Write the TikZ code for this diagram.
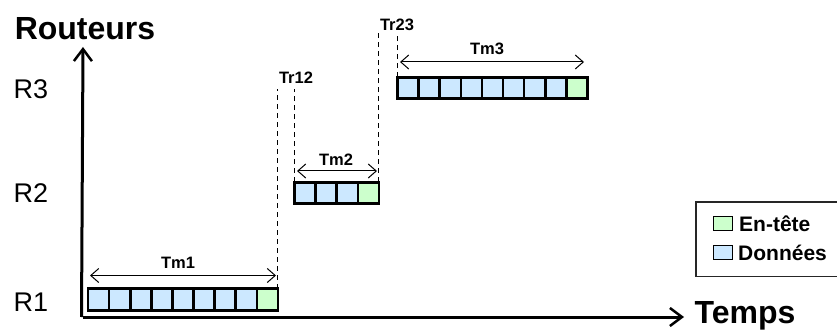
\documentclass[tikz,border=0pt]{standalone}
\usepackage{fontspec}
\setmainfont{Liberation Sans}
\usetikzlibrary{arrows.meta}
\definecolor{cellblue}{HTML}{CCE8FF}
\definecolor{cellgreen}{HTML}{CCFFCC}
\begin{document}
\begin{tikzpicture}[x=1pt,y=-1pt,
 cell/.style={draw=black, line width=2.6pt, fill=cellblue, minimum width=21.1pt, minimum height=21.5pt, inner sep=0pt, outer sep=0pt},
 hdr/.style={cell, fill=cellgreen},
 axis/.style={line width=3pt, -{Straight Barb[length=12pt,width=18pt,line width=2.5pt]}},
 meas/.style={line width=1pt, {Straight Barb[length=8pt,width=14pt]}-{Straight Barb[length=8pt,width=14pt]}},
 guide/.style={line width=1.1pt, dash pattern=on 5pt off 4pt},
 biglab/.style={font=\bfseries\fontsize{32}{36}\selectfont, inner sep=0pt, anchor=base},
 rlab/.style={font=\fontsize{27}{30}\selectfont, inner sep=0pt, anchor=base},
 smlab/.style={font=\bfseries\fontsize{16.5}{19}\selectfont, inner sep=0pt},
 legsq/.style={draw=black, line width=1.2pt, minimum width=19pt, minimum height=14pt, inner sep=0pt},
 legtxt/.style={font=\bfseries\fontsize{21}{24}\selectfont, inner sep=0pt, anchor=base west},
]
\useasboundingbox (0,0) rectangle (837,331);

% axes
\coordinate (origin) at (83,317);
\coordinate (ytop) at (83,47);
\coordinate (xend) at (684,317);
\draw[axis] ([xshift=-1.5pt]origin) -- (ytop);
\draw[axis] (origin) -- (xend);
\node[biglab] (routeurs) at (85,40) {Routeurs};
\node[biglab] (temps) at (745,323) {Temps};

% router labels
\node[rlab] (R3) at (31,99) {R3};
\node[rlab] (R2) at (31,202) {R2};
\node[rlab] (R1) at (31,311) {R1};

% row 1 (R1): 9 cells
\foreach \i in {1,...,8} \node[cell] (a\i) at ({88+21.1*(\i-0.5)},299.5) {};
\node[hdr] (a9) at ({88+21.1*8.5},299.5) {};
% row 2 (R2): 4 cells
\foreach \i in {1,...,3} \node[cell] (b\i) at ({294.5+21.1*(\i-0.5)},193) {};
\node[hdr] (b4) at ({294.5+21.1*3.5},193) {};
% row 3 (R3): 9 cells
\foreach \i in {1,...,8} \node[cell] (c\i) at ({397.5+21.1*(\i-0.5)},88) {};
\node[hdr] (c9) at ({397.5+21.1*8.5},88) {};

% transfer guides
\coordinate (tr12top) at (296,89);
\coordinate (tr23top) at (397,33);
\draw[guide] (a9.north east) -- (a9.north east |- tr12top);
\draw[guide] (b1.north west) -- (b1.north west |- tr12top);
\draw[guide] (b4.north east) -- (b4.north east |- tr23top);
\draw[guide] (c1.north west) -- (c1.north west |- tr23top);
\node[smlab] (tr12) at (296,77.5) {Tr12};
\node[smlab] (tr23) at (397,25) {Tr23};

% durations
\coordinate (m1a) at (90,275.5);   \coordinate (m1b) at (276,275.5);
\coordinate (m2a) at (297,171);  \coordinate (m2b) at (377,171);
\coordinate (m3a) at (400,62);   \coordinate (m3b) at (584,62);
\draw[meas] (m1a) -- (m1b);
\draw[meas] (m2a) -- (m2b);
\draw[meas] (m3a) -- (m3b);
\node[smlab] (tm1) at (178,263) {Tm1};
\node[smlab] (tm2) at (336,160) {Tm2};
\node[smlab] (tm3) at (487,49) {Tm3};

% legend
\draw[line width=1.2pt, draw=black!85] (850,202) -- (696,202) -- (696,276.5) -- (850,276.5);
\node[legsq, fill=cellgreen] (lg) at (723,223.5) {};
\node[legsq, fill=cellblue] (lb) at (723,252.5) {};
\node[legtxt] (lgt) at (739,231) {En-tête};
\node[legtxt] (lbt) at (738,260) {Données};
\end{tikzpicture}
\end{document}
